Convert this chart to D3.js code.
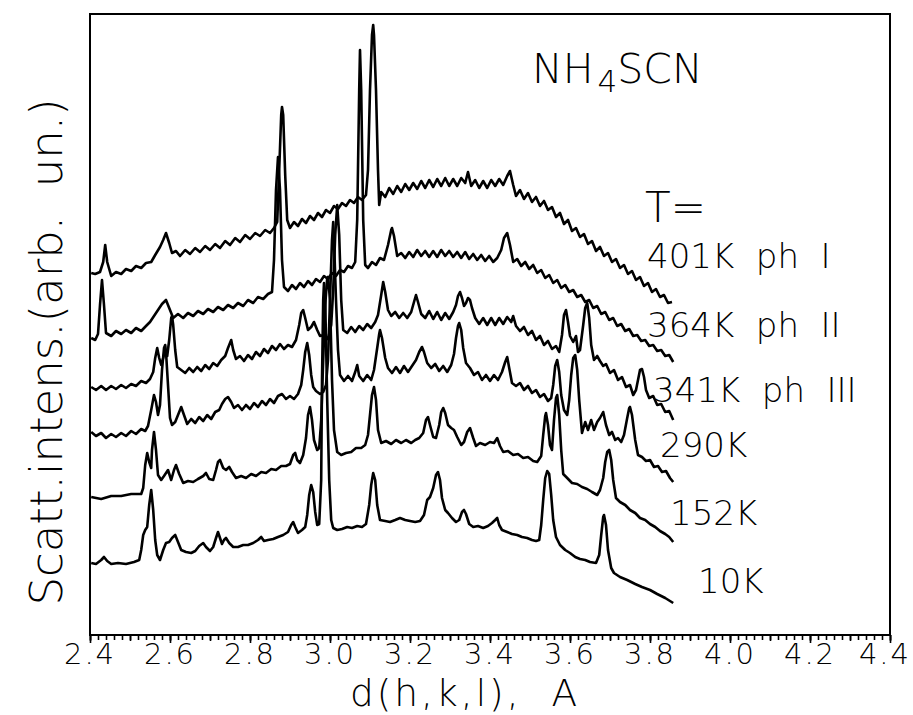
<!DOCTYPE html>
<html><head><meta charset="utf-8">
<script src="https://cdn.jsdelivr.net/npm/d3@7"></script>
<style>
html,body{margin:0;padding:0;background:#fff;}
svg{display:block;}
text{font-family:"DejaVu Sans",sans-serif;font-weight:200;fill:#000;white-space:pre;}
</style></head><body>
<svg id="chart" width="913" height="715"></svg>
<script>
// ---- DATA: d(h,k,l) [Å], scattered intensity [arb. un., stacked] ----
const s401 = [[2.403,362],[2.413,361],[2.425,363],[2.433,373],[2.438,390],[2.443,373],[2.453,359],[2.465,363],[2.478,361],[2.490,366],[2.503,364],[2.515,369],[2.528,367],[2.540,372],[2.553,373],[2.563,380],[2.575,388],[2.583,395],[2.590,402],[2.598,392],[2.605,382],[2.615,384],[2.625,379],[2.638,385],[2.650,381],[2.663,387],[2.675,383],[2.688,389],[2.700,385],[2.713,391],[2.725,387],[2.738,394],[2.750,390],[2.763,397],[2.775,393],[2.788,400],[2.800,396],[2.813,402],[2.825,399],[2.838,405],[2.850,402],[2.860,407],[2.868,413],[2.873,465],[2.878,520],[2.880,528],[2.883,520],[2.888,460],[2.893,415],[2.900,407],[2.910,413],[2.920,409],[2.930,416],[2.940,412],[2.950,419],[2.960,415],[2.970,422],[2.980,418],[2.990,425],[3.000,422],[3.010,429],[3.020,426],[3.030,432],[3.040,429],[3.050,435],[3.060,432],[3.070,438],[3.080,435],[3.090,440],[3.095,465],[3.100,545],[3.105,600],[3.108,610],[3.110,600],[3.115,545],[3.120,465],[3.123,430],[3.128,443],[3.138,438],[3.148,447],[3.158,441],[3.168,449],[3.178,443],[3.188,451],[3.198,445],[3.208,452],[3.218,446],[3.228,454],[3.238,447],[3.248,455],[3.258,448],[3.268,456],[3.278,449],[3.288,457],[3.298,449],[3.308,456],[3.318,449],[3.328,457],[3.338,452],[3.345,463],[3.353,449],[3.363,455],[3.373,447],[3.383,454],[3.393,447],[3.403,455],[3.413,449],[3.423,456],[3.433,450],[3.443,459],[3.450,464],[3.458,450],[3.465,439],[3.475,445],[3.485,436],[3.495,442],[3.505,433],[3.515,438],[3.525,429],[3.535,434],[3.545,425],[3.555,428],[3.565,418],[3.575,422],[3.585,411],[3.595,415],[3.605,404],[3.615,407],[3.625,398],[3.635,401],[3.645,391],[3.655,394],[3.665,384],[3.675,388],[3.685,379],[3.695,382],[3.705,373],[3.715,376],[3.725,367],[3.735,370],[3.745,361],[3.755,364],[3.765,355],[3.775,358],[3.785,349],[3.795,352],[3.805,343],[3.815,346],[3.825,338],[3.835,340],[3.845,332],[3.855,333]];

const s364 = [[2.403,297],[2.413,295],[2.420,301],[2.425,330],[2.430,355],[2.435,330],[2.440,302],[2.453,299],[2.465,304],[2.478,301],[2.490,305],[2.503,302],[2.515,307],[2.528,304],[2.540,309],[2.550,313],[2.560,319],[2.570,325],[2.580,331],[2.590,335],[2.598,327],[2.608,317],[2.620,321],[2.633,317],[2.645,322],[2.658,319],[2.670,324],[2.683,321],[2.695,326],[2.708,323],[2.720,328],[2.733,325],[2.745,330],[2.758,327],[2.770,332],[2.783,329],[2.795,335],[2.808,332],[2.820,338],[2.833,336],[2.845,341],[2.855,343],[2.860,375],[2.865,445],[2.870,478],[2.875,445],[2.880,375],[2.885,348],[2.895,344],[2.905,350],[2.915,346],[2.925,352],[2.935,348],[2.945,354],[2.955,350],[2.965,356],[2.975,353],[2.985,359],[2.995,356],[3.005,362],[3.015,359],[3.025,365],[3.035,363],[3.045,369],[3.055,367],[3.063,373],[3.068,415],[3.073,545],[3.075,585],[3.078,545],[3.083,415],[3.088,370],[3.095,367],[3.105,373],[3.115,370],[3.125,377],[3.135,375],[3.145,390],[3.153,405],[3.155,407],[3.160,399],[3.168,379],[3.178,382],[3.188,377],[3.198,383],[3.208,378],[3.218,385],[3.228,379],[3.238,384],[3.248,378],[3.258,384],[3.268,378],[3.278,385],[3.288,379],[3.298,384],[3.308,378],[3.318,383],[3.328,377],[3.338,383],[3.348,376],[3.358,381],[3.368,375],[3.378,380],[3.388,374],[3.398,379],[3.408,373],[3.418,377],[3.428,385],[3.435,397],[3.443,402],[3.450,390],[3.458,373],[3.468,376],[3.478,369],[3.488,373],[3.498,366],[3.508,370],[3.518,362],[3.528,365],[3.538,357],[3.548,360],[3.558,352],[3.568,355],[3.578,347],[3.588,350],[3.598,343],[3.608,345],[3.618,338],[3.628,340],[3.638,333],[3.648,335],[3.658,327],[3.668,329],[3.678,321],[3.688,323],[3.698,315],[3.708,317],[3.718,309],[3.728,311],[3.738,304],[3.748,306],[3.758,299],[3.768,300],[3.778,294],[3.788,295],[3.798,289],[3.808,290],[3.818,284],[3.828,285],[3.838,279],[3.848,280],[3.858,273]];

const s341 = [[2.403,248],[2.415,245],[2.428,249],[2.440,245],[2.453,249],[2.465,246],[2.478,250],[2.490,247],[2.503,251],[2.515,249],[2.528,254],[2.540,252],[2.550,256],[2.558,263],[2.563,277],[2.568,287],[2.573,277],[2.578,270],[2.583,277],[2.588,285],[2.593,279],[2.598,295],[2.603,317],[2.605,319],[2.608,310],[2.613,285],[2.618,268],[2.628,265],[2.638,262],[2.648,267],[2.658,263],[2.668,268],[2.678,264],[2.688,270],[2.698,266],[2.708,272],[2.718,269],[2.728,275],[2.738,279],[2.745,287],[2.753,295],[2.758,285],[2.765,276],[2.775,279],[2.785,274],[2.795,280],[2.805,276],[2.815,283],[2.825,279],[2.835,286],[2.845,282],[2.855,289],[2.865,285],[2.875,291],[2.885,286],[2.895,290],[2.905,288],[2.915,295],[2.923,310],[2.928,322],[2.933,325],[2.938,317],[2.945,305],[2.953,308],[2.960,313],[2.968,305],[2.975,299],[2.985,300],[2.995,296],[3.003,310],[3.008,345],[3.013,400],[3.018,430],[3.023,400],[3.028,335],[3.033,305],[3.043,302],[3.053,308],[3.063,303],[3.073,309],[3.083,305],[3.093,311],[3.103,307],[3.113,313],[3.120,320],[3.128,340],[3.133,353],[3.138,343],[3.145,325],[3.153,319],[3.163,323],[3.173,317],[3.183,322],[3.193,317],[3.203,323],[3.210,333],[3.215,340],[3.220,333],[3.228,321],[3.238,317],[3.248,324],[3.258,316],[3.268,323],[3.278,315],[3.288,322],[3.298,316],[3.308,323],[3.315,330],[3.320,339],[3.325,343],[3.330,337],[3.335,329],[3.340,332],[3.345,337],[3.350,335],[3.355,327],[3.363,317],[3.373,311],[3.383,317],[3.393,310],[3.403,317],[3.413,310],[3.423,317],[3.433,311],[3.443,318],[3.453,313],[3.458,319],[3.465,309],[3.475,304],[3.485,308],[3.495,300],[3.505,304],[3.515,295],[3.525,299],[3.535,290],[3.545,294],[3.555,286],[3.565,289],[3.573,283],[3.580,300],[3.585,320],[3.590,325],[3.595,313],[3.600,299],[3.608,293],[3.615,299],[3.620,283],[3.625,285],[3.633,310],[3.638,327],[3.643,332],[3.648,317],[3.653,290],[3.660,275],[3.668,279],[3.675,274],[3.683,269],[3.690,271],[3.700,262],[3.710,265],[3.720,255],[3.730,258],[3.740,248],[3.750,250],[3.758,240],[3.765,245],[3.770,255],[3.775,265],[3.780,266],[3.785,258],[3.790,245],[3.798,237],[3.808,239],[3.818,230],[3.828,231],[3.838,223],[3.848,224],[3.858,215]];

const s290 = [[2.403,203],[2.415,199],[2.428,202],[2.440,197],[2.453,201],[2.465,198],[2.478,202],[2.490,199],[2.503,204],[2.515,201],[2.528,206],[2.538,204],[2.545,209],[2.553,225],[2.560,240],[2.565,233],[2.570,220],[2.575,230],[2.580,265],[2.585,287],[2.588,290],[2.590,283],[2.595,250],[2.600,217],[2.605,210],[2.613,213],[2.620,220],[2.628,228],[2.635,220],[2.643,211],[2.653,216],[2.663,212],[2.673,218],[2.683,214],[2.693,220],[2.703,216],[2.713,223],[2.723,225],[2.730,231],[2.738,236],[2.745,238],[2.753,233],[2.760,227],[2.770,230],[2.780,225],[2.790,230],[2.800,226],[2.810,232],[2.820,228],[2.830,234],[2.840,230],[2.850,236],[2.860,232],[2.870,239],[2.880,241],[2.890,236],[2.900,239],[2.910,236],[2.920,241],[2.928,250],[2.933,265],[2.938,283],[2.943,292],[2.948,280],[2.953,260],[2.958,248],[2.965,244],[2.975,241],[2.983,243],[2.990,250],[2.995,275],[3.000,335],[3.005,395],[3.008,413],[3.010,395],[3.015,335],[3.020,285],[3.025,260],[3.035,254],[3.045,259],[3.055,254],[3.063,263],[3.068,270],[3.073,259],[3.083,254],[3.093,260],[3.103,255],[3.110,265],[3.118,287],[3.123,301],[3.125,305],[3.130,297],[3.138,277],[3.145,267],[3.155,262],[3.165,268],[3.175,262],[3.185,269],[3.195,263],[3.205,269],[3.215,275],[3.223,283],[3.230,288],[3.235,283],[3.243,272],[3.253,267],[3.263,271],[3.273,264],[3.283,269],[3.293,263],[3.303,270],[3.310,281],[3.315,297],[3.320,309],[3.323,312],[3.328,305],[3.333,287],[3.340,272],[3.350,267],[3.360,260],[3.370,263],[3.380,255],[3.390,260],[3.400,254],[3.410,260],[3.420,255],[3.430,263],[3.438,273],[3.443,278],[3.448,267],[3.455,252],[3.465,249],[3.475,252],[3.485,245],[3.495,249],[3.505,242],[3.515,245],[3.525,238],[3.535,241],[3.545,234],[3.553,237],[3.558,250],[3.563,269],[3.568,275],[3.573,263],[3.578,240],[3.585,225],[3.593,220],[3.598,235],[3.603,260],[3.608,277],[3.613,280],[3.618,265],[3.623,235],[3.630,202],[3.638,213],[3.645,205],[3.653,215],[3.660,205],[3.668,213],[3.675,217],[3.683,223],[3.690,210],[3.698,200],[3.705,203],[3.713,195],[3.720,197],[3.728,193],[3.735,200],[3.743,217],[3.748,227],[3.750,228],[3.755,220],[3.763,195],[3.770,180],[3.780,178],[3.790,174],[3.800,175],[3.810,168],[3.820,169],[3.830,163],[3.840,164],[3.850,157],[3.858,153]];

const s152 = [[2.403,138],[2.428,136],[2.453,139],[2.478,139],[2.503,141],[2.528,141],[2.533,147],[2.538,170],[2.543,182],[2.548,173],[2.553,167],[2.555,185],[2.560,203],[2.565,185],[2.570,160],[2.578,155],[2.585,159],[2.595,165],[2.603,155],[2.610,165],[2.615,170],[2.623,161],[2.633,152],[2.645,154],[2.658,153],[2.670,156],[2.683,159],[2.690,162],[2.698,156],[2.708,155],[2.715,165],[2.720,173],[2.725,175],[2.733,167],[2.740,165],[2.748,168],[2.755,163],[2.765,157],[2.778,159],[2.790,157],[2.803,161],[2.815,159],[2.828,163],[2.840,162],[2.853,166],[2.865,165],[2.878,169],[2.890,169],[2.900,171],[2.908,180],[2.913,182],[2.918,175],[2.925,172],[2.933,180],[2.940,197],[2.945,220],[2.950,228],[2.955,215],[2.960,195],[2.968,185],[2.973,187],[2.978,215],[2.983,275],[2.988,330],[2.993,357],[2.995,358],[3.000,335],[3.005,255],[3.010,205],[3.018,183],[3.028,180],[3.040,182],[3.053,183],[3.065,187],[3.078,187],[3.088,190],[3.095,200],[3.100,220],[3.105,240],[3.110,248],[3.115,235],[3.120,205],[3.128,192],[3.140,194],[3.153,191],[3.165,195],[3.178,192],[3.190,195],[3.203,192],[3.213,195],[3.223,197],[3.233,202],[3.240,215],[3.245,218],[3.250,210],[3.258,198],[3.265,197],[3.273,210],[3.278,223],[3.283,227],[3.288,222],[3.295,210],[3.303,207],[3.310,205],[3.318,198],[3.328,190],[3.335,193],[3.343,203],[3.350,207],[3.358,197],[3.365,189],[3.375,192],[3.388,190],[3.400,193],[3.410,192],[3.418,197],[3.425,189],[3.433,183],[3.445,184],[3.458,180],[3.470,181],[3.483,177],[3.495,178],[3.508,174],[3.518,173],[3.528,179],[3.533,200],[3.538,219],[3.540,222],[3.545,210],[3.550,190],[3.555,185],[3.560,215],[3.565,237],[3.568,240],[3.573,220],[3.578,185],[3.583,161],[3.593,157],[3.605,152],[3.618,151],[3.630,148],[3.643,146],[3.655,143],[3.668,140],[3.675,145],[3.683,157],[3.688,173],[3.693,183],[3.698,185],[3.703,175],[3.708,155],[3.715,137],[3.725,133],[3.738,130],[3.750,125],[3.763,122],[3.775,117],[3.788,115],[3.800,111],[3.813,108],[3.825,104],[3.838,101],[3.848,98],[3.858,93]];

const s10 = [[2.403,72],[2.415,71],[2.428,75],[2.435,78],[2.443,74],[2.453,71],[2.470,72],[2.490,71],[2.510,73],[2.523,75],[2.528,85],[2.533,100],[2.538,105],[2.543,108],[2.548,130],[2.553,145],[2.558,125],[2.563,95],[2.568,80],[2.575,75],[2.583,85],[2.590,92],[2.598,93],[2.605,97],[2.613,100],[2.620,93],[2.628,85],[2.640,83],[2.653,82],[2.663,84],[2.673,89],[2.683,92],[2.690,88],[2.700,84],[2.708,88],[2.715,97],[2.720,103],[2.725,97],[2.730,91],[2.735,95],[2.740,97],[2.748,92],[2.758,88],[2.770,88],[2.783,90],[2.795,90],[2.808,92],[2.820,95],[2.828,98],[2.835,94],[2.845,95],[2.858,96],[2.870,98],[2.883,100],[2.895,103],[2.903,110],[2.908,113],[2.913,108],[2.920,102],[2.930,105],[2.938,108],[2.943,120],[2.948,140],[2.953,150],[2.958,143],[2.963,123],[2.968,110],[2.973,111],[2.978,155],[2.980,255],[2.983,335],[2.985,352],[2.988,335],[2.993,235],[2.998,155],[3.003,115],[3.008,107],[3.018,105],[3.030,106],[3.043,108],[3.055,107],[3.068,109],[3.080,108],[3.090,111],[3.098,130],[3.103,150],[3.108,162],[3.113,155],[3.118,130],[3.125,115],[3.138,114],[3.150,113],[3.163,115],[3.175,117],[3.188,115],[3.200,114],[3.213,113],[3.225,114],[3.235,120],[3.243,135],[3.250,138],[3.258,147],[3.265,160],[3.270,163],[3.275,155],[3.280,137],[3.288,125],[3.295,122],[3.305,117],[3.315,113],[3.323,115],[3.330,123],[3.335,125],[3.340,121],[3.348,111],[3.358,108],[3.370,109],[3.383,107],[3.395,109],[3.405,112],[3.413,115],[3.418,117],[3.423,110],[3.430,105],[3.443,103],[3.455,101],[3.468,100],[3.480,98],[3.493,97],[3.505,95],[3.515,94],[3.523,95],[3.528,110],[3.533,135],[3.538,157],[3.543,164],[3.548,161],[3.553,140],[3.558,115],[3.565,98],[3.575,90],[3.588,85],[3.600,82],[3.613,78],[3.625,76],[3.638,75],[3.650,73],[3.665,72],[3.673,80],[3.678,100],[3.683,118],[3.685,120],[3.690,110],[3.695,85],[3.703,67],[3.710,62],[3.725,58],[3.743,55],[3.763,51],[3.780,48],[3.800,45],[3.818,41],[3.838,37],[3.858,32]];

const seriesNames = ["401K  ph  I", "364K  ph  II", "341K  ph  III", "290K", "152K", "10K"];
const tickLabels = ["2.4","2.6","2.8","3.0","3.2","3.4","3.6","3.8","4.0","4.2","4.4"];
const xDomain = [2.4, 4.4];
const yDomain = [0, 620];

// ---- LAYOUT ----
const plot = {left: 90, right: 890, top: 14, bottom: 635};
const labelPos = [[647,268],[647,337],[653,402],[660,457],[670,525],[698,593]];

const svg = d3.select("#chart");
const x = d3.scaleLinear().domain(xDomain).range([plot.left, plot.right]);
const y = d3.scaleLinear().domain(yDomain).range([plot.bottom, plot.top + 1]);

// frame
svg.append("rect")
  .attr("x", plot.left).attr("y", plot.top)
  .attr("width", plot.right - plot.left).attr("height", plot.bottom - plot.top)
  .attr("fill", "none").attr("stroke", "#000").attr("stroke-width", 2);

// ticks (minor 0.02, mid 0.1, major 0.2)
const minorT = d3.range(0, 101).map(i => +(2.4 + i * 0.02).toFixed(2));
const midT = d3.range(0, 21).map(i => +(2.4 + i * 0.1).toFixed(2));
const majorT = tickLabels.map(Number);
[[minorT, 5], [midT, 6], [majorT, 8]].forEach(([vals, len]) => {
  const g = svg.append("g")
    .attr("transform", `translate(0,${plot.bottom})`)
    .call(d3.axisBottom(x).tickValues(vals).tickSize(len).tickFormat(""));
  g.select(".domain").remove();
  g.selectAll("line").attr("stroke", "#000").attr("stroke-width", 1.6);
});

// tick labels
const nT = tickLabels.length;
svg.append("g").selectAll("text").data(tickLabels).join("text")
  .attr("x", (d, i) => i === nT - 1 ? 911 : x(+d)).attr("y", 664)
  .attr("text-anchor", (d, i) => i === nT - 1 ? "end" : "middle")
  .attr("font-size", 29).attr("letter-spacing", 2)
  .text(d => d);

// axis titles
svg.append("text").attr("x", 465).attr("y", 705.5)
  .attr("text-anchor", "middle").attr("font-size", 37.5).attr("letter-spacing", 3)
  .text("d(h,k,l),  A");
svg.append("text")
  .attr("transform", "translate(62,352) rotate(-90)")
  .attr("text-anchor", "middle").attr("font-size", 45)
  .text("Scatt.intens.(arb.  un.)");

// compound title
const t = svg.append("text").attr("x", 532).attr("y", 83).attr("font-size", 41);
t.append("tspan").text("NH");
t.append("tspan").attr("dx", 4).attr("dy", 9).attr("font-size", 31).text("4");
t.append("tspan").attr("dy", -9).text("SCN");

svg.append("text").attr("x", 645).attr("y", 222).attr("font-size", 42).text("T=");

// curves
const allSeries = [s401, s364, s341, s290, s152, s10];
const line = d3.line().x(d => x(d[0])).y(d => y(d[1]));
svg.append("g").selectAll("path").data(allSeries).join("path")
  .attr("d", line)
  .attr("fill", "none").attr("stroke", "#000")
  .attr("stroke-width", 2.6).attr("stroke-linejoin", "round");

// series labels
svg.append("g").selectAll("text").data(seriesNames).join("text")
  .attr("x", (d, i) => labelPos[i][0]).attr("y", (d, i) => labelPos[i][1])
  .attr("font-size", 34)
  .text(d => d);
</script>
</body></html>
